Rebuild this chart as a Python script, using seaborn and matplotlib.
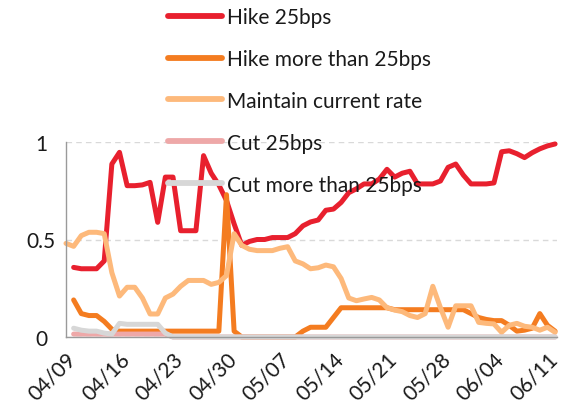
import numpy as np
import pandas as pd
import seaborn as sns
import matplotlib.pyplot as plt
import matplotlib.dates as mdates

# daily dates, 04/09 .. 06/12
dates = pd.date_range('2023-04-09', periods=65, freq='D')

nan = np.nan
hike_25 = [nan, 0.357, 0.35, 0.35, 0.35, 0.39, 0.887, 0.947, 0.776, 0.776,
           0.78, 0.793, 0.588, 0.82, 0.82, 0.545, 0.545, 0.545, 0.93, 0.84,
           0.78, 0.70, 0.58, 0.47, 0.49, 0.50, 0.50, 0.51, 0.51, 0.51,
           0.53, 0.57, 0.59, 0.60, 0.65, 0.656, 0.69, 0.74, 0.76, 0.785,
           0.785, 0.81, 0.86, 0.82, 0.84, 0.85, 0.785, 0.785, 0.785, 0.80,
           0.87, 0.887, 0.83, 0.785, 0.785, 0.785, 0.79, 0.95, 0.955, 0.94,
           0.92, 0.945, 0.965, 0.98, 0.99]
hike_more = [nan, 0.19, 0.12, 0.11, 0.11, 0.08, 0.04, 0.03, 0.03, 0.03,
             0.03, 0.03, 0.03, 0.03, 0.03, 0.03, 0.03, 0.03, 0.03, 0.03,
             0.03, 0.73, 0.03, 0.0, 0.0, 0.0, 0.0, 0.0, 0.0, 0.0,
             0.0, 0.03, 0.05, 0.05, 0.05, 0.10, 0.15, 0.15, 0.15, 0.15,
             0.15, 0.15, 0.15, 0.14, 0.14, 0.14, 0.14, 0.14, 0.14, 0.14,
             0.14, 0.14, 0.14, 0.12, 0.10, 0.09, 0.084, 0.084, 0.06, 0.03,
             0.035, 0.045, 0.12, 0.06, 0.03]
maintain = [0.48, 0.465, 0.52, 0.537, 0.537, 0.53, 0.33, 0.21, 0.255, 0.255,
            0.20, 0.118, 0.118, 0.20, 0.22, 0.26, 0.29, 0.29, 0.29, 0.27,
            0.28, 0.315, 0.53, 0.47, 0.45, 0.443, 0.443, 0.443, 0.455, 0.463,
            0.39, 0.375, 0.35, 0.355, 0.369, 0.36, 0.30, 0.20, 0.186, 0.195,
            0.203, 0.19, 0.15, 0.138, 0.13, 0.11, 0.10, 0.12, 0.26, 0.15,
            0.05, 0.16, 0.16, 0.16, 0.075, 0.07, 0.067, 0.024, 0.06, 0.07,
            0.055, 0.05, 0.035, 0.05, 0.024]
cut_25 = [nan] + [0.015] * 13 + [0.0] * 51
cut_more = [nan, 0.045, 0.035, 0.03, 0.03, 0.02, 0.015, 0.07, 0.065, 0.065,
            0.065, 0.065, 0.065, 0.02] + [0.0] * 51

labels = ['Hike 25bps', 'Hike more than 25bps', 'Maintain current rate',
          'Cut 25bps', 'Cut more than 25bps']
colors = ['#e8202e', '#f47c20', '#fdb97b', '#eea8a8', '#d7d7d7']

df = pd.DataFrame({'date': dates,
                   labels[0]: hike_25,
                   labels[1]: hike_more,
                   labels[2]: maintain,
                   labels[3]: cut_25,
                   labels[4]: cut_more})
long = df.melt(id_vars='date', var_name='outcome', value_name='prob')

sns.set_style('white')
plt.rcParams['font.family'] = ['Lato', 'DejaVu Sans']

fig = plt.figure(figsize=(5.78, 4.14), dpi=100)
ax = fig.add_axes([66 / 578, 1 - 338 / 414, (557 - 66) / 578, (338 - 143) / 414])

sns.lineplot(data=long, x='date', y='prob', hue='outcome', hue_order=labels,
             palette=colors, linewidth=3.6, ax=ax, legend=True)
for line in ax.lines:
    line.set_clip_on(False)
    line.set_solid_joinstyle('round')

ax.set_ylim(0, 1)
ax.set_xlim(dates[0], dates[0] + pd.Timedelta(hours=64.25 * 24))
ax.set_yticks([0, 0.5, 1])
ax.set_yticklabels(['0', '0.5', '1'])
ax.yaxis.grid(True, linestyle=(0, (4, 3)), color='#d9d9d9', linewidth=1)
ax.set_axisbelow(True)

ax.set_xticks(pd.date_range('2023-04-09', '2023-06-11', freq='7D'))
ax.xaxis.set_major_formatter(mdates.DateFormatter('%m/%d'))

sns.despine(ax=ax, top=True, right=True)
for side in ['left', 'bottom']:
    ax.spines[side].set_color('#9a9a9a')
    ax.spines[side].set_linewidth(1)
ax.tick_params(axis='both', length=5, color='#9a9a9a', width=1,
               labelsize=15, labelcolor='#1a1a1a')
ax.tick_params(axis='y', pad=13)
for t in ax.get_yticklabels():
    t.set_horizontalalignment('center')
for t in ax.get_xticklabels():
    t.set_rotation(45)
    t.set_horizontalalignment('right')
    t.set_rotation_mode('anchor')
ax.set_xlabel('')
ax.set_ylabel('')

handles, labs = ax.get_legend_handles_labels()
ax.get_legend().remove()
leg = fig.legend(handles, labs, loc='upper left', bbox_to_anchor=(168 / 578, 1 - 8 / 414),
                 frameon=False, fontsize=15, handlelength=2.6, handletextpad=0.25,
                 labelspacing=1.05, borderpad=0, borderaxespad=0)
for h in leg.legend_handles:
    h.set_linewidth(4.2)
    h.set_solid_capstyle('round')
for t in leg.get_texts():
    t.set_color('#1a1a1a')

plt.savefig('out.png', dpi=100)
